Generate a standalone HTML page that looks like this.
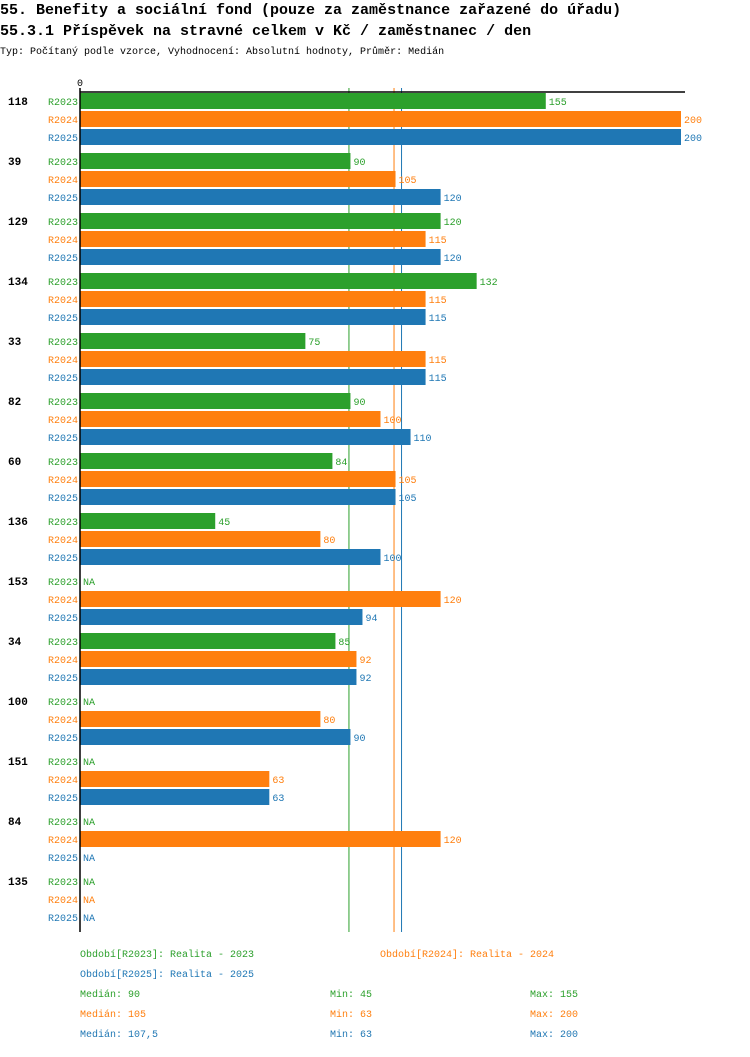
<!DOCTYPE html>
<html><head><meta charset="utf-8"><style>
body{margin:0;background:#fff;width:750px;height:1052px;overflow:hidden;font-family:"Liberation Mono",monospace}
svg text{font-family:"Liberation Mono",monospace}
</style></head><body>
<svg id="c" width="750" height="1052" xmlns="http://www.w3.org/2000/svg">
<text x="0" y="14" font-size="15" font-weight="bold">55. Benefity a sociální fond (pouze za zaměstnance zařazené do úřadu)</text>
<text x="0" y="35" font-size="15" font-weight="bold">55.3.1 Příspěvek na stravné celkem v Kč / zaměstnanec / den</text>
<text x="0" y="54" font-size="10">Typ: Počítaný podle vzorce, Vyhodnocení: Absolutní hodnoty, Průměr: Medián</text>
<text x="80" y="86" font-size="10" text-anchor="middle">0</text>
<g id="marks"></g>
</svg>
<script>
const categories=["118","39","129","134","33","82","60","136","153","34","100","151","84","135"];
const r2023=[155,90,120,132,75,90,84,45,null,85,null,null,null,null];
const r2024=[200,105,115,115,115,100,105,80,120,92,80,63,120,null];
const r2025=[200,120,120,115,115,110,105,100,94,92,90,63,null,null];
const seriesNames=["R2023","R2024","R2025"];
const colors=["#2ca02c","#ff7f0e","#1f77b4"];
const medians=[90,105,107.5];
const mins=[45,63,63];
const maxs=[155,200,200];
const legendLabels=["Období[R2023]: Realita - 2023","Období[R2024]: Realita - 2024","Období[R2025]: Realita - 2025"];
const series=[r2023,r2024,r2025];
const NS="http://www.w3.org/2000/svg";
const g=document.getElementById('marks');
const x=v=>80+v*3.005;
const y=(gi,si)=>93+gi*60+si*18;
function mk(t,a,txt){const e=document.createElementNS(NS,t);for(const k in a)e.setAttribute(k,a[k]);if(txt!=null)e.textContent=txt;g.appendChild(e);return e;}
medians.forEach((m,i)=>{
  let l=mk('line',{x1:x(m)-1.5,x2:x(m)-1.5,y1:88,y2:932,stroke:colors[i],'stroke-width':1});
  
  
});
categories.forEach((c,gi)=>{
  let e=mk('text',{x:8,y:y(gi,0)+12,'font-size':11,'font-weight':'bold'},c);
  
  
  series.forEach((s,si)=>{
    const v=s[gi];
    let l=mk('text',{x:78,y:y(gi,si)+12,'font-size':10,'text-anchor':'end',fill:colors[si]},seriesNames[si]);
    
    
    if(v!=null){
      let r=mk('rect',{x:x(0),y:y(gi,si),width:x(v)-x(0),height:16,fill:colors[si]});
      
      
    }
    let t=mk('text',{x:(v!=null?x(v):x(0))+3,y:y(gi,si)+12,'font-size':10,fill:colors[si]},v!=null?String(v):'NA');
    
    
  });
});
let ax=mk('line',{x1:80,x2:685,y1:92,y2:92,stroke:'#000','stroke-width':1.5});


let ay=mk('line',{x1:80,x2:80,y1:88,y2:932,stroke:'#000','stroke-width':1.5});


const lpos=[[80,957],[380,957],[80,977]];
legendLabels.forEach((t,i)=>{
  let e=mk('text',{x:lpos[i][0],y:lpos[i][1],'font-size':10,fill:colors[i]},t);
  
  
});
series.forEach((s,i)=>{
  const yy=997+i*20;
  const fmt=v=>String(v).replace('.',',');
  [["Medián: "+fmt(medians[i]),80],["Min: "+mins[i],330],["Max: "+maxs[i],530]].forEach(([t,xx])=>{
    let e=mk('text',{x:xx,y:yy,'font-size':10,fill:colors[i]},t);
    
    
  });
});
</script>
</body></html>
